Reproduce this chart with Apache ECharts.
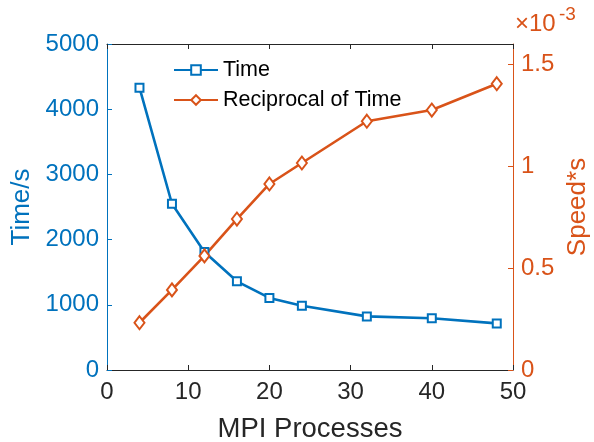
<!DOCTYPE html>
<html><head><meta charset="utf-8">
<script src="https://cdn.jsdelivr.net/npm/echarts@6/dist/echarts.min.js"></script>
<style>html,body{margin:0;padding:0;background:#fff}#c{width:594px;height:442px}</style>
</head><body><div id="c"></div>
<script>
var processes = [4, 8, 12, 16, 20, 24, 32, 40, 48];
var timeValues = [4330, 2550, 1810, 1360, 1105, 985, 822, 793, 715];
var reciprocalValues = [0.232e-3, 0.393e-3, 0.560e-3, 0.741e-3, 0.913e-3, 1.016e-3, 1.221e-3, 1.276e-3, 1.405e-3];
var xTicks = [0, 10, 20, 30, 40, 50];
var timeTicks = [0, 1000, 2000, 3000, 4000, 5000];
var speedTicks = [0, 0.5e-3, 1e-3, 1.5e-3];

var BLUE = '#0072BD', ORANGE = '#D95319', DARK = '#262626';
var FONT = 'Liberation Sans';
var chart = echarts.init(document.getElementById('c'));
chart.setOption({
  animation: false,
  textStyle: {fontFamily: FONT},
  grid: {left: 107, right: 81, top: 44, bottom: 72, containLabel: false, outerBoundsMode: 'none'},
  legend: {
    data: ['Time', 'Reciprocal of Time'],
    orient: 'vertical', left: 168, top: 54, itemGap: 8,
    itemWidth: 44, itemHeight: 12,
    textStyle: {fontSize: 21.5, color: '#000', fontFamily: FONT}
  },
  xAxis: [{
    type: 'value', min: xTicks[0], max: xTicks[xTicks.length - 1], interval: 10,
    name: 'MPI Processes', nameLocation: 'middle', nameGap: 45,
    nameTextStyle: {fontSize: 27.5, color: DARK},
    axisLine: {show: true, onZero: false, lineStyle: {color: DARK, width: 1}},
    axisTick: {inside: true, length: 5, lineStyle: {color: DARK}},
    axisLabel: {fontSize: 24, color: DARK, margin: 10},
    splitLine: {show: false}
  }, {
    type: 'value', position: 'top', min: 0, max: 50, interval: 10,
    axisLine: {show: true, onZero: false, lineStyle: {color: DARK, width: 1}},
    axisTick: {inside: true, length: 5, lineStyle: {color: DARK}},
    axisLabel: {show: false}, splitLine: {show: false}
  }],
  yAxis: [{
    type: 'value', min: timeTicks[0], max: timeTicks[timeTicks.length - 1], interval: 1000, position: 'left',
    name: 'Time/s', nameLocation: 'middle', nameGap: 70, nameRotate: 90,
    nameTextStyle: {fontSize: 26, color: BLUE},
    axisLine: {show: true, onZero: false, lineStyle: {color: BLUE, width: 1}},
    axisTick: {show: true, inside: true, length: 5, lineStyle: {color: BLUE}},
    axisLabel: {fontSize: 24, color: BLUE, margin: 8, formatter: function (v) { return String(v); }},
    splitLine: {show: false}
  }, {
    type: 'value', min: 0, max: 1.6e-3, interval: 0.5e-3, position: 'right',
    name: 'Speed*s', nameLocation: 'middle', nameGap: 50, nameRotate: 90,
    nameTextStyle: {fontSize: 26, color: ORANGE},
    axisLine: {show: true, onZero: false, lineStyle: {color: ORANGE, width: 1}},
    axisTick: {show: true, inside: true, length: 5, lineStyle: {color: ORANGE}},
    axisLabel: {fontSize: 24, color: ORANGE, margin: 8, showMaxLabel: false,
      formatter: function (v) {
        for (var i = 0; i < speedTicks.length; i++) {
          if (Math.abs(v - speedTicks[i]) < 1e-9) return String(+(v * 1000).toFixed(2));
        }
        return '';
      }},
    splitLine: {show: false}
  }],
  series: [{
    name: 'Time', type: 'line', xAxisIndex: 0, yAxisIndex: 0,
    data: processes.map(function (x, i) { return [x, timeValues[i]]; }),
    symbol: 'emptyRect', symbolSize: 8, showAllSymbol: true,
    lineStyle: {color: BLUE, width: 2.6},
    itemStyle: {color: BLUE, borderColor: BLUE, borderWidth: 2.2}
  }, {
    name: 'Reciprocal of Time', type: 'line', xAxisIndex: 0, yAxisIndex: 1,
    data: processes.map(function (x, i) { return [x, reciprocalValues[i]]; }),
    symbol: 'emptyDiamond', symbolSize: [10, 13], showAllSymbol: true,
    lineStyle: {color: ORANGE, width: 2.6},
    itemStyle: {color: ORANGE, borderColor: ORANGE, borderWidth: 2.2}
  }],
  graphic: [{
    type: 'text', left: 515, top: 12,
    style: {text: '×10', fontSize: 24, fill: ORANGE, fontFamily: FONT}
  }, {
    type: 'text', left: 559, top: 5,
    style: {text: '-3', fontSize: 19, fill: ORANGE, fontFamily: FONT}
  }]
});
</script></body></html>
